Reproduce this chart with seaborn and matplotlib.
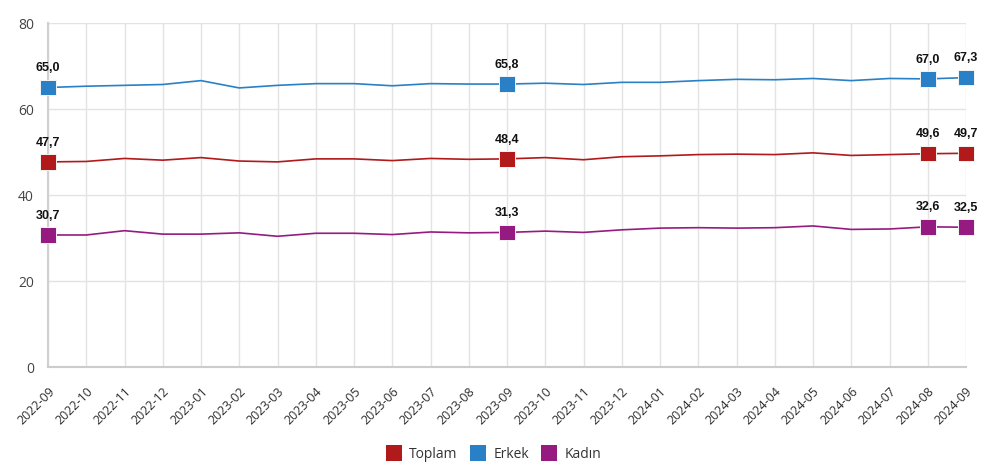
import numpy as np
import pandas as pd
import matplotlib
matplotlib.use("Agg")
import matplotlib.pyplot as plt
import seaborn as sns
from matplotlib.lines import Line2D

months = ["2022-09", "2022-10", "2022-11", "2022-12", "2023-01", "2023-02", "2023-03",
          "2023-04", "2023-05", "2023-06", "2023-07", "2023-08", "2023-09", "2023-10",
          "2023-11", "2023-12", "2024-01", "2024-02", "2024-03", "2024-04", "2024-05",
          "2024-06", "2024-07", "2024-08", "2024-09"]
toplam = [47.7, 47.8, 48.5, 48.1, 48.7, 47.9, 47.7, 48.4, 48.4, 48.0, 48.5, 48.3, 48.4,
          48.7, 48.2, 48.9, 49.1, 49.4, 49.5, 49.4, 49.8, 49.2, 49.4, 49.6, 49.7]
erkek = [65.0, 65.3, 65.5, 65.7, 66.6, 64.9, 65.5, 65.9, 65.9, 65.4, 65.9, 65.8, 65.8,
         66.0, 65.7, 66.2, 66.2, 66.6, 66.9, 66.8, 67.1, 66.6, 67.1, 67.0, 67.3]
kadin = [30.7, 30.7, 31.7, 30.9, 30.9, 31.2, 30.4, 31.1, 31.1, 30.8, 31.4, 31.2, 31.3,
         31.6, 31.3, 31.9, 32.3, 32.4, 32.3, 32.4, 32.8, 32.0, 32.1, 32.6, 32.5]
series_names = ["Toplam", "Erkek", "Kadın"]
colors = ["#B2191B", "#2A80C6", "#951B80"]
marked_months = ["2022-09", "2023-09", "2024-08", "2024-09"]
y_ticks = [0, 20, 40, 60, 80]

rows = []
for name, vals in zip(series_names, [toplam, erkek, kadin]):
    for i, (m, v) in enumerate(zip(months, vals)):
        rows.append({"idx": i, "month": m, "series": name, "value": v})
df = pd.DataFrame(rows)

sns.set_style("white")
plt.rcParams["font.family"] = ["Open Sans", "DejaVu Sans"]

fig = plt.figure(figsize=(10.05, 4.77), dpi=100)
ax = fig.add_axes([48/1005, 1-368/477, (966-48)/1005, (368-24)/477])
palette = dict(zip(series_names, colors))

sns.lineplot(data=df, x="idx", y="value", hue="series", palette=palette,
             linewidth=1.2, ax=ax, legend=False, zorder=3)
mk = df[df["month"].isin(marked_months)]
sns.scatterplot(data=mk, x="idx", y="value", hue="series", palette=palette,
                marker="s", s=125, edgecolor="#f4f4f4", linewidth=0.7, alpha=1,
                ax=ax, legend=False, zorder=4, clip_on=False)
for _, r in mk.iterrows():
    ax.annotate(f"{r['value']:.1f}".replace(".", ","), (r["idx"], r["value"]),
                xytext=(0, 12.5), textcoords="offset points", ha="center", va="baseline",
                fontsize=9, fontweight="bold", color="#111111",
                family=["Liberation Sans", "DejaVu Sans"], annotation_clip=False)

ax.set_xlim(0, len(months) - 1)
ax.set_ylim(0, 80)
ax.set_xticks(range(len(months)))
ax.set_xticklabels(months, rotation=45, ha="right", rotation_mode="anchor",
                   fontsize=9, color="#2e2e2e")
ax.set_yticks(y_ticks)
ax.set_yticklabels([str(t) for t in y_ticks], fontsize=10, color="#444444")
ax.tick_params(axis="x", length=8, color="#dddddd", pad=4)
ax.tick_params(axis="y", length=8, color="#dddddd", pad=2)
ax.grid(True, color="#e3e3e3", linewidth=1)
ax.set_axisbelow(True)
for s in ["top", "right"]:
    ax.spines[s].set_visible(False)
ax.spines["left"].set_color("#d0d0d0")
ax.spines["left"].set_linewidth(1.5)
ax.spines["bottom"].set_color("#cccccc")
ax.spines["bottom"].set_linewidth(1.5)
ax.set_xlabel("")
ax.set_ylabel("")

handles = [Line2D([], [], marker="s", linestyle="", markersize=11.5,
                  markerfacecolor=c, markeredgecolor=c, markeredgewidth=0) for c in colors]
fig.legend(handles, series_names, loc="center", bbox_to_anchor=(493.5/1005, 1-455/477),
           ncol=3, frameon=False, fontsize=10, handlelength=1.15, handletextpad=0.55,
           columnspacing=0.86, labelcolor="#333333")

fig.savefig("out.png", dpi=100, facecolor="white")
